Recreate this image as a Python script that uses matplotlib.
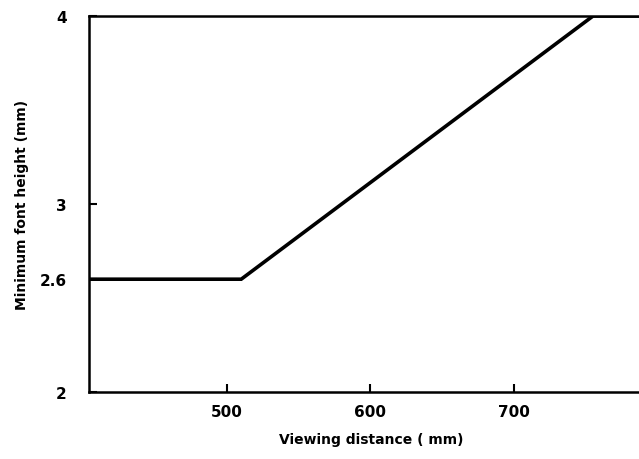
import matplotlib
matplotlib.use("Agg")
import matplotlib.pyplot as plt

# dados
distancia = [404, 510, 755, 787]
altura_min = [2.6, 2.6, 4.0, 4.0]
xticks = [500, 600, 700]
yticks = [2, 2.6, 3, 4]
ytick_labels = ["2", "2.6", "3", "4"]

plt.rcParams["font.family"] = ["DejaVu Sans"]
plt.rcParams["font.weight"] = "bold"

fig = plt.figure(figsize=(6.39, 4.60), dpi=100)
ax = fig.add_axes([89 / 639, 1 - 393 / 460, 1 - 89 / 639, (393 - 17) / 460])

ax.plot(distancia, altura_min, color="black", linewidth=2.6, solid_joinstyle="miter")

ax.set_xlim(404, 787)
ax.set_ylim(2, 4)
ax.set_xticks(xticks)
ax.set_xticklabels([str(x) for x in xticks], fontsize=11, fontweight="bold")
ax.set_yticks(yticks)
ax.set_yticklabels(ytick_labels, fontsize=11, fontweight="bold")
ax.tick_params(axis="both", direction="in", length=6, width=1.5)
ax.tick_params(axis="x", pad=9)
ax.tick_params(axis="y", pad=16)

ax.spines["right"].set_visible(False)
for lado in ["left", "top", "bottom"]:
    ax.spines[lado].set_linewidth(1.8)

ax.set_xlabel("Viewing distance ( mm)", fontsize=10, fontweight="bold", labelpad=9)
ax.xaxis.label.set_x(0.513)
ax.set_ylabel("Minimum font height (mm)", fontsize=10, fontweight="bold", labelpad=8)

fig.savefig("out.png", dpi=100)
